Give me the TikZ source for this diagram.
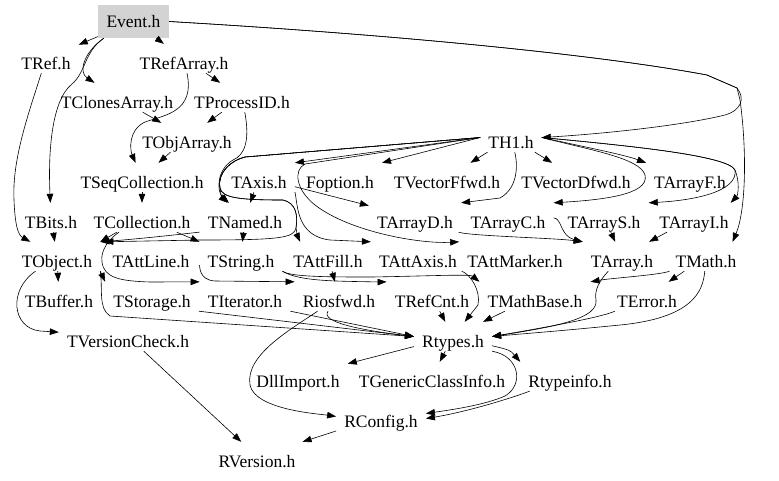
\documentclass[tikz,border=0pt]{standalone}
\usepackage{fontspec}
\setmainfont{Liberation Serif}
\usetikzlibrary{arrows.meta}
\definecolor{evgray}{RGB}{211,211,211}
\begin{document}
\begin{tikzpicture}[x=1pt,y=-1pt,
  hdr/.style={font=\fontsize{17.5}{20}\selectfont, anchor=base, inner xsep=8pt, inner ysep=1pt, text height=24pt, text depth=3pt},
  evbox/.style={fill=evgray, minimum width=71pt, minimum height=33pt, inner sep=0pt, font=\fontsize{17.5}{20}\selectfont, text height=12pt, text depth=0pt},
  dep/.style={-{Triangle[length=9pt,width=6.5pt]}, line width=0.6pt}]
\useasboundingbox (0,0) rectangle (779,480);
% nodes
\node[evbox] (ev) at (133.5,21.5) {Event.h};
\node[hdr] (tref) at (46,69) {TRef.h};
\node[hdr] (trefarray) at (184,69) {TRefArray.h};
\node[hdr] (tclones) at (117,108) {TClonesArray.h};
\node[hdr] (tprocid) at (242,108) {TProcessID.h};
\node[hdr] (tobjarray) at (187,148) {TObjArray.h};
\node[hdr] (th1) at (511,148) {TH1.h};
\node[hdr] (tseqcoll) at (142,188) {TSeqCollection.h};
\node[hdr] (taxis) at (259,188) {TAxis.h};
\node[hdr] (foption) at (340,188) {Foption.h};
\node[hdr] (tvecf) at (447,188) {TVectorFfwd.h};
\node[hdr] (tvecd) at (576,188) {TVectorDfwd.h};
\node[hdr] (tarrayf) at (690,188) {TArrayF.h};
\node[hdr] (tbits) at (51,228) {TBits.h};
\node[hdr] (tcoll) at (142,228) {TCollection.h};
\node[hdr] (tnamed) at (245,228) {TNamed.h};
\node[hdr] (tarrayd) at (415,228) {TArrayD.h};
\node[hdr] (tarrayc) at (508,228) {TArrayC.h};
\node[hdr] (tarrays) at (604,228) {TArrayS.h};
\node[hdr] (tarrayi) at (694,228) {TArrayI.h};
\node[hdr] (tobject) at (57,267) {TObject.h};
\node[hdr] (tattline) at (151,267) {TAttLine.h};
\node[hdr] (tstring) at (241,267) {TString.h};
\node[hdr] (tattfill) at (328,267) {TAttFill.h};
\node[hdr] (tattaxis) at (418,267) {TAttAxis.h};
\node[hdr] (tattmarker) at (515,267) {TAttMarker.h};
\node[hdr] (tarray) at (622,267) {TArray.h};
\node[hdr] (tmath) at (706,267) {TMath.h};
\node[hdr] (tbuffer) at (59,307) {TBuffer.h};
\node[hdr] (tstorage) at (152,307) {TStorage.h};
\node[hdr] (titerator) at (245,307) {TIterator.h};
\node[hdr] (riosfwd) at (339,307) {Riosfwd.h};
\node[hdr] (trefcnt) at (432,307) {TRefCnt.h};
\node[hdr] (tmathbase) at (535,307) {TMathBase.h};
\node[hdr] (terror) at (647,307) {TError.h};
\node[hdr] (tversion) at (128,347) {TVersionCheck.h};
\node[hdr] (rtypes) at (453,347) {Rtypes.h};
\node[hdr] (dllimport) at (298,387) {DllImport.h};
\node[hdr] (tgci) at (432,387) {TGenericClassInfo.h};
\node[hdr] (rtypeinfo) at (570,387) {Rtypeinfo.h};
\node[hdr] (rconfig) at (381,427) {RConfig.h};
\node[hdr] (rversion) at (257,467) {RVersion.h};
% Event.h
\draw[dep] (ev) -- (tref);
\draw[dep] (ev) -- (trefarray);
\draw[dep] ([xshift=6pt]ev.south west) .. controls (84,52) and (78,72) .. (tclones);
\draw[dep] ([xshift=6pt]ev.south west) .. controls (84,52) and (86,72) .. (72,84) .. controls (52,100) and (48,150) .. (tbits);
\draw[dep] (ev.east) .. controls (400,35) and (600,55) .. (707,75) -- (737,88) .. controls (745,98) and (742,110) .. (725,115) .. controls (680,126) and (600,134) .. (th1.east);
\draw[dep] (ev.east) .. controls (400,35) and (600,55) .. (707,75) -- (737,88) -- (740,100) .. controls (747,150) and (746,210) .. ([xshift=-12pt]tmath.north east);
% TRef, TRefArray, TClonesArray, TProcessID
\draw[dep] (tref) .. controls (28,115) and (12,160) .. (14,200) .. controls (15,225) and (18,235) .. (tobject);
\draw[dep] (trefarray) -- (tprocid);
\draw[dep] (trefarray) .. controls (195,112) and (165,115) .. (145,122) .. controls (128,130) and (130,150) .. (tseqcoll);
\draw[dep] (tclones) -- (tobjarray);
\draw[dep] (tprocid) -- (tobjarray);
\draw[dep] (tprocid) .. controls (250,140) and (245,155) .. (233,160) .. controls (216,170) and (217,192) .. (tnamed);
\draw[dep] (tobjarray) -- (tseqcoll);
\draw[dep] (tseqcoll) -- (tcoll);
% TH1.h
\draw[dep] (th1.west) -- (taxis.north east);
\draw[dep] (th1.west) -- (foption.north east);
\draw[dep] (th1) -- (tvecf);
\draw[dep] (th1) -- (tvecd);
\draw[dep] (th1.east) .. controls (590,148) and (625,155) .. (tarrayf.north west);
\draw[dep] (th1.east) .. controls (620,145) and (728,155) .. (735,170) .. controls (740,182) and (738,195) .. ([xshift=-6pt]tarrayi.north east);
\draw[dep] (th1.east) .. controls (620,145) and (728,155) .. (735,170) .. controls (738,190) and (700,200) .. (tarrays.north east);
\draw[dep] (th1.east) .. controls (590,150) and (640,158) .. (645,175) .. controls (650,195) and (600,200) .. (tarrayc.north east);
\draw[dep] (th1) .. controls (518,165) and (518,188) .. (500,198) -- (tarrayd.north east);
\draw[dep] (th1.west) -- (305,164) .. controls (293,170) and (296,190) .. (315,205) .. controls (350,232) and (420,244) .. (tattmarker.north west);
\draw[dep] (th1.west) -- (245,157) .. controls (232,160) and (217,172) .. (220,188) .. controls (221,195) and (222,198) .. (tnamed);
\draw[dep] (th1.west) -- (245,157) .. controls (232,160) and (217,172) .. (220,188) .. controls (222,198) and (240,200) .. (283,200) .. controls (296,203) and (298,215) .. (296,228) .. controls (294,238) and (280,240) .. (200,240) -- (tattline.north west);
\draw[dep] (th1.west) -- (245,157) .. controls (232,160) and (217,172) .. (220,188) .. controls (222,198) and (240,200) .. (283,200) .. controls (296,203) and (298,215) .. (296,228) .. controls (297,234) and (298,237) .. ([xshift=15pt]tattfill.north west);
% TAxis
\draw[dep] (taxis) -- (tnamed);
\draw[dep] (taxis) -- (tarrayd);
\draw[dep] (taxis.south east) .. controls (298,205) and (296,236) .. (330,240) -- (tattaxis.north west);
% TNamed, TCollection, TBits
\draw[dep] (tnamed) -- (tstring);
\draw[dep] (tnamed) .. controls (200,232) and (150,238) .. (tobject.north east);
\draw[dep] (tcoll) -- (tobject.north east);
\draw[dep] (tcoll) -- (tstring.north west);
\draw[dep] (tcoll) .. controls (110,238) and (100,250) .. (102,262) .. controls (104,278) and (120,281) .. (150,282) -- (titerator.north west);
\draw[dep] (tbits) -- (tobject);
% TObject
\draw[dep] (tobject) -- (tbuffer);
\draw[dep] (tobject.south east) -- (tstorage.north west);
\draw[dep] (tobject) .. controls (8,290) and (12,328) .. (40,331) -- (tversion);
\draw[dep] (tobject.south east) .. controls (103,290) and (98,308) .. (110,316) -- (rtypes.west);
% TString, TAttFill
\draw[dep] (tstring) .. controls (200,265) and (198,280) .. (215,281) -- (riosfwd.north west);
\draw[dep] (tstring.south east) .. controls (300,282) and (340,281) .. (380,282) -- (trefcnt.north west);
\draw[dep] (tstring.south east) .. controls (290,277) and (330,277) .. (372,277) .. controls (430,276) and (470,274) .. (tmathbase.north west);
\draw[dep] (tattfill) -- (riosfwd);
% into Rtypes
\draw[dep] (tstorage.south east) -- (rtypes.west);
\draw[dep] (titerator.south east) -- (rtypes.west);
\draw[dep] (riosfwd) .. controls (320,322) and (360,330) .. (rtypes.west);
\draw[dep] (riosfwd) .. controls (290,330) and (245,355) .. (250,385) .. controls (255,410) and (320,414) .. (rconfig.west);
\draw[dep] (trefcnt) -- (rtypes);
\draw[dep] (tattaxis) .. controls (470,274) and (481,290) .. (478,305) -- (rtypes);
\draw[dep] (tmathbase) -- (rtypes);
\draw[dep] (terror) .. controls (600,318) and (530,330) .. (rtypes.east);
\draw[dep] (tmath) .. controls (703,292) and (692,318) .. (620,325) .. controls (560,331) and (520,334) .. (rtypes.east);
\draw[dep] (tmath) -- (terror);
\draw[dep] (tmath) .. controls (660,275) and (612,278) .. (tmathbase.north east);
\draw[dep] (tarray) .. controls (600,280) and (594,290) .. (596,300) .. controls (598,318) and (560,326) .. (rtypes.east);
% arrays
\draw[dep] (tarrayd) .. controls (470,236) and (555,238) .. (tarray.north west);
\draw[dep] (tarrayc) .. controls (562,218) and (560,236) .. (tarray.north west);
\draw[dep] (tarrays) -- (tarray);
\draw[dep] (tarrayi) -- (tarray);
% Rtypes out
\draw[dep] (rtypes) -- (dllimport);
\draw[dep] (rtypes) -- (tgci);
\draw[dep] (rtypes) .. controls (510,350) .. (rtypeinfo.north west);
\draw[dep] (rtypes.south east) .. controls (520,356) and (524,385) .. (505,396) .. controls (485,405) and (450,410) .. ([yshift=3pt]rconfig.east);
\draw[dep] (rtypeinfo) .. controls (500,402) and (460,413) .. ([yshift=-2pt]rconfig.east);
\draw[dep] (rconfig) -- (rversion);
\draw[dep] (tversion) -- (rversion);
\end{tikzpicture}
\end{document}
